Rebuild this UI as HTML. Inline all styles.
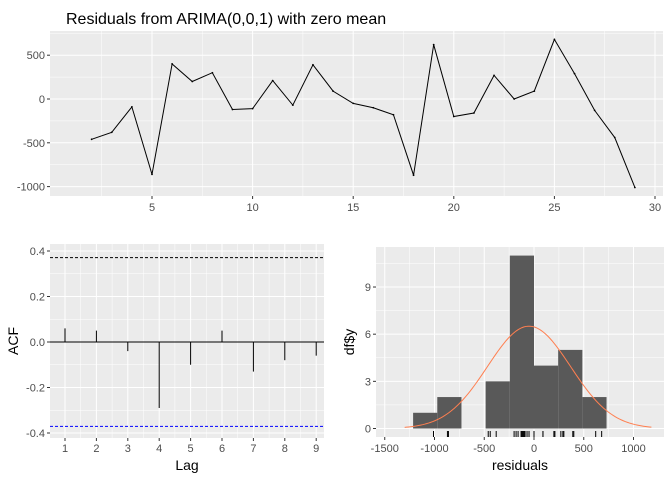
<!DOCTYPE html>
<html><head><meta charset="utf-8"><style>
body{margin:0;background:#fff}
svg{font-family:"Liberation Sans",Arial,sans-serif}
</style></head><body>
<svg id="s" width="672" height="480" xmlns="http://www.w3.org/2000/svg">
<text x="66" y="24" font-size="16" fill="#000">Residuals from ARIMA(0,0,1) with zero mean</text>
<g id="g1"></g>
<g id="g2"></g>
<g id="g3"></g>
</svg>
<script>
const times=[2,3,4,5,6,7,8,9,10,11,12,13,14,15,16,17,18,19,20,21,22,23,24,25,26,27,28,29];
const resid=[-460,-380,-90,-860,400,200,300,-120,-110,210,-70,390,90,-50,-100,-180,-870,620,-200,-160,270,0,90,680,290,-130,-440,-1010];
const xTicks1=[5,10,15,20,25,30];
const yTicks1=[500,0,-500,-1000];
const lags=[1,2,3,4,5,6,7,8,9];
const acfVals=[0.06,0.05,-0.04,-0.29,-0.10,0.05,-0.13,-0.08,-0.06];
const acfTicks=[0.4,0.2,0.0,-0.2,-0.4];
const ciLimit=0.371;
const binEdges=[-1215,-972,-729,-486,-243,0,243,486,729];
const binCounts=[1,2,0,3,11,4,5,2];
const histXTicks=[-1500,-1000,-500,0,500,1000];
const histYTicks=[0,3,6,9];
const normMean=-50, normSd=417;
const NS="http://www.w3.org/2000/svg";
function el(p,t,a){const e=document.createElementNS(NS,t);for(const k in a)e.setAttribute(k,a[k]);p.appendChild(e);return e;}
function txt(p,x,y,s,a){const e=el(p,'text',Object.assign({x:x,y:y,'font-size':11,fill:'#4d4d4d'},a));e.textContent=s;return e;}
function panel(g,x0,y0,x1,y1,name){const r=el(g,'rect',{x:x0,y:y0,width:x1-x0,height:y1-y0,fill:'#ebebeb'});}
// Panel 1
const g1=document.getElementById('g1');
const X1=v=>152+(v-5)*20.12, Y1=v=>99-v*0.0876;
panel(g1,50,31,663,196,'time-plot-panel');
[2.5,7.5,12.5,17.5,22.5,27.5].forEach(v=>el(g1,'line',{x1:X1(v),x2:X1(v),y1:31,y2:196,stroke:'#fff','stroke-width':0.5}));
[750,250,-250,-750].forEach(v=>el(g1,'line',{x1:50,x2:663,y1:Y1(v),y2:Y1(v),stroke:'#fff','stroke-width':0.5}));
xTicks1.forEach(v=>{el(g1,'line',{x1:X1(v),x2:X1(v),y1:31,y2:196,stroke:'#fff','stroke-width':1});el(g1,'line',{x1:X1(v),x2:X1(v),y1:196,y2:199,stroke:'#333'});const t=txt(g1,X1(v),211,v,{'text-anchor':'middle'});});
yTicks1.forEach(v=>{el(g1,'line',{x1:50,x2:663,y1:Y1(v),y2:Y1(v),stroke:'#fff','stroke-width':1});el(g1,'line',{x1:47,x2:50,y1:Y1(v),y2:Y1(v),stroke:'#333'});const t=txt(g1,45,Y1(v)+4,v,{'text-anchor':'end'});});
const line=el(g1,'polyline',{points:times.map((t,i)=>X1(t)+','+Y1(resid[i])).join(' '),fill:'none',stroke:'#000','stroke-width':1});


times.forEach((t,i)=>{const c=el(g1,'circle',{cx:X1(t),cy:Y1(resid[i]),r:0.9,fill:'#000'});});
// Panel 2 ACF
const g2=document.getElementById('g2');
const X2=v=>65+(v-1)*31.4, Y2=v=>342-v*227.5;
panel(g2,50,244,324,438,'acf-panel');
[1.5,2.5,3.5,4.5,5.5,6.5,7.5,8.5].forEach(v=>el(g2,'line',{x1:X2(v),x2:X2(v),y1:244,y2:438,stroke:'#fff','stroke-width':0.5}));
[0.3,0.1,-0.1,-0.3].forEach(v=>el(g2,'line',{x1:50,x2:324,y1:Y2(v),y2:Y2(v),stroke:'#fff','stroke-width':0.5}));
lags.forEach(v=>{el(g2,'line',{x1:X2(v),x2:X2(v),y1:244,y2:438,stroke:'#fff','stroke-width':1});el(g2,'line',{x1:X2(v),x2:X2(v),y1:438,y2:441,stroke:'#333'});const t=txt(g2,X2(v),452,v,{'text-anchor':'middle'});});
acfTicks.forEach(v=>{el(g2,'line',{x1:50,x2:324,y1:Y2(v),y2:Y2(v),stroke:'#fff','stroke-width':1});el(g2,'line',{x1:47,x2:50,y1:Y2(v),y2:Y2(v),stroke:'#333'});const t=txt(g2,45,Y2(v)+4,v.toFixed(1),{'text-anchor':'end'});});
el(g2,'line',{x1:50,x2:324,y1:Y2(0),y2:Y2(0),stroke:'#000','stroke-width':1});
const u=el(g2,'line',{x1:50,x2:324,y1:Y2(ciLimit),y2:Y2(ciLimit),stroke:'#000','stroke-dasharray':'3,2'});


const lw=el(g2,'line',{x1:50,x2:324,y1:Y2(-ciLimit),y2:Y2(-ciLimit),stroke:'#0000ff','stroke-dasharray':'3,2'});


lags.forEach((l,i)=>{const b=el(g2,'line',{x1:X2(l),x2:X2(l),y1:Y2(0),y2:Y2(acfVals[i]),stroke:'#000','stroke-width':1});});
let t2=txt(g2,187,470,'Lag',{'text-anchor':'middle','font-size':14,fill:'#000'});
t2=txt(g2,0,0,'ACF',{'text-anchor':'middle','font-size':14,fill:'#000',transform:'translate(18,341) rotate(-90)'});
// Panel 3 histogram
const g3=document.getElementById('g3');
const X3=v=>534+v*0.0995, Y3=v=>428.5-v*15.72;
panel(g3,376,247,664,437,'histogram-panel');
[-1250,-750,-250,250,750].forEach(v=>el(g3,'line',{x1:X3(v),x2:X3(v),y1:247,y2:437,stroke:'#fff','stroke-width':0.5}));
[1.5,4.5,7.5,10.5].forEach(v=>el(g3,'line',{x1:376,x2:664,y1:Y3(v),y2:Y3(v),stroke:'#fff','stroke-width':0.5}));
histXTicks.forEach(v=>{el(g3,'line',{x1:X3(v),x2:X3(v),y1:247,y2:437,stroke:'#fff','stroke-width':1});el(g3,'line',{x1:X3(v),x2:X3(v),y1:437,y2:440,stroke:'#333'});const t=txt(g3,X3(v),452,v,{'text-anchor':'middle'});});
histYTicks.forEach(v=>{el(g3,'line',{x1:376,x2:664,y1:Y3(v),y2:Y3(v),stroke:'#fff','stroke-width':1});el(g3,'line',{x1:373,x2:376,y1:Y3(v),y2:Y3(v),stroke:'#333'});const t=txt(g3,371,Y3(v)+4,v,{'text-anchor':'end'});});
binCounts.forEach((c,i)=>{if(!c)return;const r=el(g3,'rect',{x:X3(binEdges[i]),y:Y3(c),width:X3(binEdges[i+1])-X3(binEdges[i]),height:Y3(0)-Y3(c),fill:'#595959'});});
const n=resid.length, bw=binEdges[1]-binEdges[0];
let pts=[];for(let v=-1300;v<=1180;v+=20){const d=n*bw*Math.exp(-0.5*((v-normMean)/normSd)**2)/(normSd*Math.sqrt(2*Math.PI));pts.push(X3(v)+','+Y3(d));}
const nc=el(g3,'polyline',{points:pts.join(' '),fill:'none',stroke:'#ff7f50','stroke-width':1});


resid.forEach(v=>{const r=el(g3,'line',{x1:X3(v),x2:X3(v),y1:431,y2:437,stroke:'#000','stroke-width':1});});
let t3=txt(g3,520,470,'residuals',{'text-anchor':'middle','font-size':14,fill:'#000'});
t3=txt(g3,0,0,'df$y',{'text-anchor':'middle','font-size':14,fill:'#000',transform:'translate(354,342) rotate(-90)'});
</script>
</body></html>
